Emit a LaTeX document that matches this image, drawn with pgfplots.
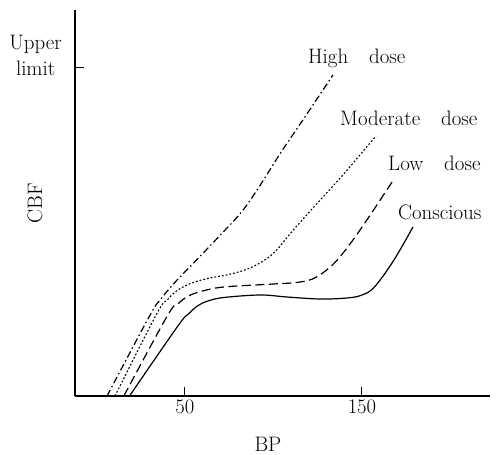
\documentclass[border=0pt]{standalone}
\usepackage{pgfplots}
\pgfplotsset{compat=1.18}

\pgfplotsset{
  curve/.style={no marks, smooth, tension=0.6, line width=1.2bp, black},
}
\newcommand{\lbl}{\fontsize{21}{24}\selectfont}

\begin{document}
\begin{tikzpicture}
\path[use as bounding box] (-75bp,-59bp) rectangle (421bp,396bp);
\begin{axis}[
    scale only axis,
    width=415bp, height=386bp,
    xmin=-12.1, xmax=222.3,
    ymin=0, ymax=386,
    axis x line*=bottom, axis y line*=left,
    axis line style={line width=1.1bp},
    xtick={50,150},
    ytick={328}, yticklabels={},
    tick align=inside,
    major tick length=9bp,
    tick style={line width=1bp, black},
    ticklabel style={font=\fontsize{20}{22}\selectfont},
    xticklabel style={yshift=-1bp},
    xlabel={BP},
    ylabel={CBF},
    label style={font=\lbl},
    xlabel style={at={(axis description cs:0.465,-0.124)}, anchor=center},
    ylabel style={at={(axis description cs:-0.0964,0.5)}, anchor=center},
    clip=false,
]
% High dose
\addplot[curve, dash pattern=on 7bp off 3bp on 1.5bp off 3bp] coordinates {
  (6,0) (30,80) (36,96) (44,113) (56,135) (70,161) (81,182) (90,204) (104,243) (117,277) (133.6,321)
};
% Moderate dose
\addplot[curve, line width=1.1bp, dash pattern=on 1.8bp off 2bp] coordinates {
  (10.5,0) (34,82) (40,96) (46,106) (54,113) (64,118) (76,122) (88.6,129.5) (99.9,142.7) (111.2,166) (128.1,199.3) (137.6,217.7) (157.9,260)
};
% Low dose
\addplot[curve, dash pattern=on 9bp off 4.5bp] coordinates {
  (15.5,0) (40,80) (46,92) (52,100) (60,105) (72,109) (99.9,112) (113,113.5) (122,117) (130,126) (137.6,139.3) (148.9,166) (167,214)
};
% Conscious
\addplot[curve] coordinates {
  (18.7,0) (46,70) (52,82) (57,90) (63,95) (72,98.5) (92.4,101) (107.6,99) (126.3,97) (141.5,98) (150,101) (157,109) (167.7,135) (178.8,169)
};
\node[anchor=west, inner sep=0, font=\lbl] at (axis cs:119.5,338) {High\quad dose};
\node[anchor=west, inner sep=0, font=\lbl] at (axis cs:137.6,278) {Moderate\quad dose};
\node[anchor=west, inner sep=0, font=\lbl] at (axis cs:164.7,233) {Low\quad dose};
\node[anchor=west, inner sep=0, font=\lbl] at (axis cs:170.3,184) {Conscious};
\node[anchor=east, align=center, inner sep=0, font=\fontsize{21}{26}\selectfont]
  at (axis description cs:-0.0313,0.8834) {Upper\\limit};
\end{axis}
\end{tikzpicture}
\end{document}
